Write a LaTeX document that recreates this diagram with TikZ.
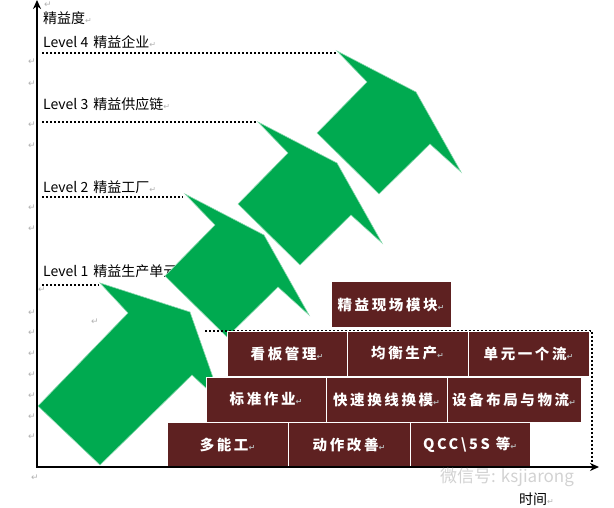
\documentclass[tikz,border=0pt]{standalone}
\usepackage{fontspec}
\usetikzlibrary{arrows.meta}
\setmainfont{Noto Sans CJK SC}
\newfontfamily\boxfont[LetterSpace=18]{Noto Sans CJK SC}
\newfontfamily\markfont{DejaVu Sans}
\definecolor{arrowgreen}{RGB}{0,170,80}
\definecolor{brick}{RGB}{94,33,33}
\newcommand{\pmark}{{\markfont\color{gray!60}\fontsize{8}{8}\selectfont ↵}}
\begin{document}
\begin{tikzpicture}[x=1pt,y=-1pt]
	\tikzset{
		lvl/.style={anchor=west,inner sep=0pt,font=\fontsize{14}{14}\selectfont},
		lvldots/.style={line width=1.6pt,dash pattern=on 1.6pt off 2.4pt},
		blk/.style={draw=white,line width=1pt,fill=brick,text=white,inner sep=0pt,minimum height=45pt,font=\boxfont\bfseries\fontsize{14.5}{14.5}\selectfont},
		grn/.style={fill=arrowgreen,draw=arrowgreen!45,line width=0.6pt},
		axis/.style={line width=2.6pt,{Stealth[length=9pt,width=8pt]}-{Stealth[length=9pt,width=8pt]}},
		pm/.style={inner sep=0pt,text=gray!60,font=\markfont\fontsize{9}{9}\selectfont}
	}
	\useasboundingbox (0,0) rectangle (614,508);
	\node[lvl] (yname) at (43,18) {精益度\pmark};
	\node[lvl] (l4) at (43,42) {Level 4\hspace{5pt}精益企业\pmark};
	\node[lvl] (l3) at (43,104) {Level 3\hspace{5pt}精益供应链\pmark};
	\node[lvl] (l2) at (43,187) {Level 2\hspace{5pt}精益工厂\pmark};
	\node[lvl] (l1) at (43,271) {Level 1\hspace{5pt}精益生产单元\pmark};
	\draw[lvldots] (42,53) -- (336,53);
	\draw[lvldots] (42,122) -- (257,122);
	\draw[lvldots] (42,197) -- (183,197);
	\draw[lvldots] (42,285) -- (99,285);
	\foreach \y in {62,84,125,146,208,229,313,333,354,375,396,417,437}{
		\node[pm] (m\y) at (32,\y) {↵};
	}
	\node[pm] (mtop) at (48,5) {↵};
	\node[pm] (mlow) at (42,290) {↵};
	\node[pm] (mmid) at (95,322) {↵};
	\node[pm] (mbot) at (35,478) {↵};
	\draw[grn] (38,406) -- (128,313) -- (100,283) -- (190,312) -- (222,403) -- (192,375) -- (100,465) -- cycle;
	\foreach \dx/\dy in {-73/72, 0/0, 79/-71}{
		\draw[grn,shift={(\dx,\dy)}] (238,204) -- (288,153) -- (258,122) -- (337,163) -- (382,243) -- (351,215) -- (300,265) -- cycle;
	}
	\draw[lvldots] (205,331) -- (592,331) -- (592,464);
	\node[blk,minimum width=120pt] (top) at (391,304.5) {精益现场模块\pmark};
	\foreach \nm/\cx/\cy/\w/\txt in {
		b21/287/353.5/120/看板管理, b22/407.5/353.5/121/均衡生产, b23/528.5/353.5/121/单元一个流,
		b31/266/399.5/120/标准作业, b32/386.5/399.5/121/快速换线换模, b33/514/399.5/134/设备布局与物流,
		b41/227.5/445/121/多能工, b42/349/445/122/动作改善, b43/470/445/120/{QCC\textbackslash{}5S 等}}{
		\node[blk,minimum width=\w pt] (\nm) at (\cx,\cy) {\txt\pmark};
	}
	\coordinate (ytop) at (37,0);
	\coordinate (orig) at (37,467);
	\coordinate (xend) at (599,467);
	\draw[axis] (ytop) -- (orig) -- (xend);
	\node[anchor=west,inner sep=0pt,text=gray!35,font=\fontsize{17}{17}\selectfont] (wm) at (440,477) {微信号: ksjiarong};
	\node[lvl] (xname) at (519,499) {时间\pmark};
\end{tikzpicture}
\end{document}
